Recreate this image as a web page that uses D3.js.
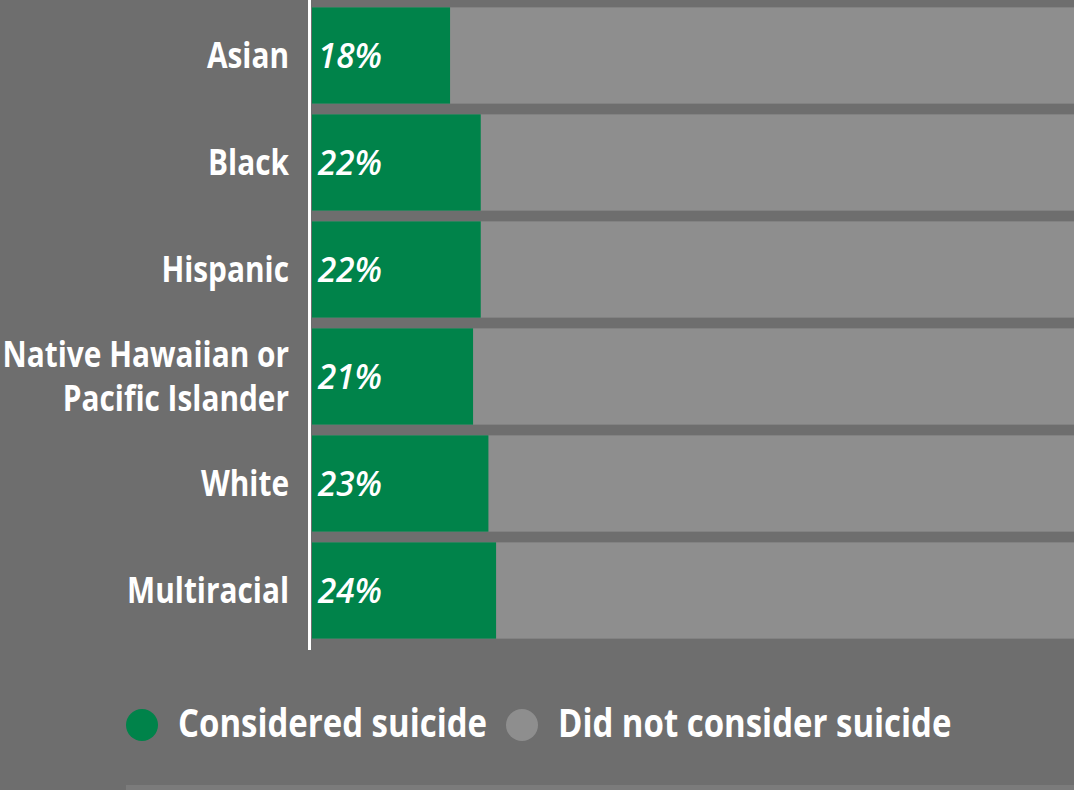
<!DOCTYPE html>
<html><head><meta charset="utf-8">
<script src="https://cdn.jsdelivr.net/npm/d3@7"></script>
<style>html,body{margin:0;padding:0;background:#6e6e6e;overflow:hidden}</style>
</head><body>
<svg id="c" width="1074" height="790"></svg>
<script>
const categories = ["Asian","Black","Hispanic","Native Hawaiian or Pacific Islander","White","Multiracial"];
const categoryLines = [["Asian"],["Black"],["Hispanic"],["Native Hawaiian or","Pacific Islander"],["White"],["Multiracial"]];
const considered = [18,22,22,21,23,24];
const notConsidered = considered.map(v => 100 - v);
const percentLabels = ["18%","22%","22%","21%","23%","24%"];
const legendLabels = ["Considered suicide","Did not consider suicide"];

const colors = {green:"#00834a", gray:"#8e8e8e", bg:"#6e6e6e"};
const FONT = "'Open Sans', Lato, sans-serif";
const svg = d3.select("#c");
svg.append("rect").attr("width",1074).attr("height",790).attr("fill",colors.bg);
svg.append("rect").attr("x",126).attr("y",785).attr("width",948).attr("height",5).attr("fill","#7b7b7b");

const x0 = 312;
const x = d3.scaleLinear().domain([0,100]).range([x0, x0 + 767]);
const y = d3.scaleBand().domain(categories).range([2, 644]).paddingInner(0.1).paddingOuter(0.05);

const rows = svg.selectAll("g.row").data(categories).join("g").attr("class","row");
rows.append("rect").attr("x", x(0)).attr("y", d => y(d))
  .attr("width", (d,i) => x(100) - x(0)).attr("height", y.bandwidth()).attr("fill", colors.gray);
rows.append("rect").attr("x", x(0)).attr("y", d => y(d))
  .attr("width", (d,i) => x(considered[i]) - x(0)).attr("height", y.bandwidth()).attr("fill", colors.green);
rows.append("g").attr("transform", d => `translate(318,${y(d) + y.bandwidth()/2}) scale(0.95,1)`)
  .append("text").attr("x",0).attr("y",0)
  .attr("dy","0.35em").attr("fill","#fff").attr("font-family",FONT)
  .attr("font-weight","600").attr("font-style","italic").attr("font-size",35)
  .text((d,i) => percentLabels[i]);
rows.each(function(d,i){
  const lines = categoryLines[i];
  const cy = y(d) + y.bandwidth()/2;
  const t = d3.select(this).append("g").attr("transform",`translate(289,${cy}) scale(0.852,1)`)
    .append("text").attr("text-anchor","end").attr("fill","#fff")
    .attr("font-family",FONT).attr("font-weight","bold").attr("font-size",35);
  const lh = 44;
  lines.forEach((l,j) => {
    t.append("tspan").attr("x",0).attr("y", (j - (lines.length-1)/2)*lh).attr("dy","0.35em").text(l);
  });
});
// axis line
svg.append("line").attr("x1",309.5).attr("x2",309.5).attr("y1",0).attr("y2",650)
  .attr("stroke","#fff").attr("stroke-width",3);

// legend
const lg = [{c:colors.green, cx:142, tx:178},{c:colors.gray, cx:522, tx:558}];
lg.forEach((l,i) => {
  svg.append("circle").attr("cx",l.cx).attr("cy",725).attr("r",16).attr("fill",l.c);
  svg.append("g").attr("transform",`translate(${l.tx},723) scale(0.845,1)`)
    .append("text").attr("x",0).attr("y",0).attr("dy","0.35em").attr("fill","#fff")
    .attr("font-family",FONT).attr("font-weight","bold").attr("font-size",39)
    .text(legendLabels[i]);
});
</script>
</body></html>
